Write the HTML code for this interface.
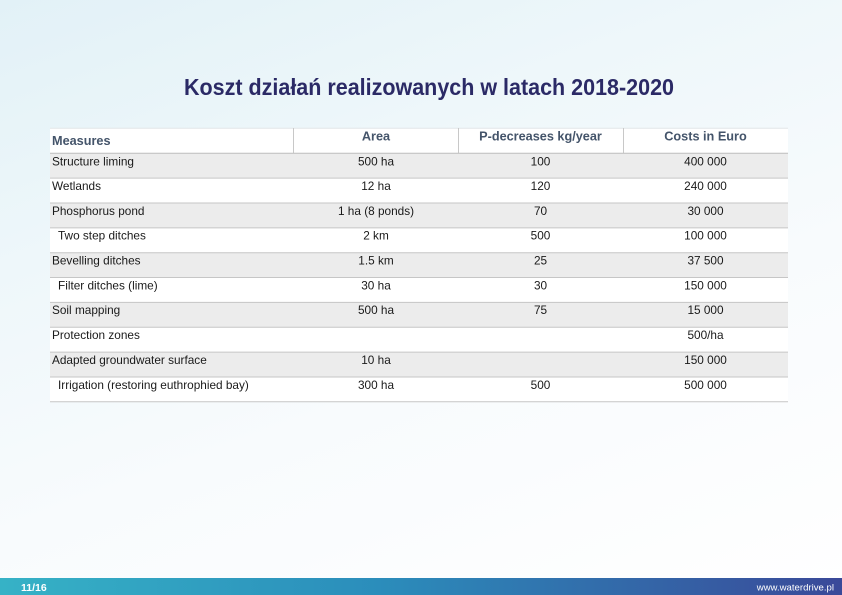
<!DOCTYPE html>
<html>
<head>
<meta charset="utf-8">
<style>
  html, body { margin:0; padding:0; }
  body { width:842px; height:595px; overflow:hidden; position:relative;
    background: linear-gradient(160deg, #e2f1f7 0%, #eef7fa 30%, #f8fbfd 60%, #ffffff 100%);
    font-family: "Liberation Sans", sans-serif; }
  svg { position:absolute; left:0; top:0; }
</style>
</head>
<body>
<svg width="842" height="595" viewBox="0 0 842 595" xmlns="http://www.w3.org/2000/svg">
  <defs>
    <linearGradient id="foot" x1="0" y1="0" x2="1" y2="0">
      <stop offset="0" stop-color="#36b2c6"/>
      <stop offset="0.45" stop-color="#2b8dbb"/>
      <stop offset="1" stop-color="#3a4999"/>
    </linearGradient>
  </defs>

  <!-- Title -->
  <text x="184" y="95" font-family="Liberation Sans, sans-serif" font-weight="bold" font-size="23" fill="#2b2a66" textLength="490" lengthAdjust="spacingAndGlyphs">Koszt działań realizowanych w latach 2018-2020</text>

  <!-- Header -->
  <rect x="50" y="128" width="738" height="25.3" fill="#ffffff"/>
  <line x1="50" y1="128.3" x2="788" y2="128.3" stroke="#e2e6e8" stroke-width="1"/>
  <line x1="293.5" y1="128" x2="293.5" y2="153" stroke="#c8c8c8" stroke-width="1"/>
  <line x1="458.5" y1="128" x2="458.5" y2="153" stroke="#c8c8c8" stroke-width="1"/>
  <line x1="623.5" y1="128" x2="623.5" y2="153" stroke="#c8c8c8" stroke-width="1"/>

  <g font-family="Liberation Sans, sans-serif" font-weight="bold" font-size="12.7" fill="#44546a">
    <text x="52" y="145">Measures</text>
    <text x="376" y="140.5" text-anchor="middle">Area</text>
    <text x="540.5" y="140.5" text-anchor="middle">P-decreases kg/year</text>
    <text x="705.5" y="140.5" text-anchor="middle">Costs in Euro</text>
  </g>

  <!-- Rows backgrounds -->
  <g fill="#ececec">
    <rect x="50" y="153.3" width="738" height="24.85"/>
    <rect x="50" y="203.0" width="738" height="24.85"/>
    <rect x="50" y="252.7" width="738" height="24.85"/>
    <rect x="50" y="302.4" width="738" height="24.85"/>
    <rect x="50" y="352.1" width="738" height="24.85"/>
  </g>
  <g fill="#ffffff">
    <rect x="50" y="178.15" width="738" height="24.85"/>
    <rect x="50" y="227.85" width="738" height="24.85"/>
    <rect x="50" y="277.55" width="738" height="24.85"/>
    <rect x="50" y="327.25" width="738" height="24.85"/>
    <rect x="50" y="376.95" width="738" height="24.85"/>
  </g>

  <!-- Row divider lines -->
  <g stroke="#c6c6c6" stroke-width="1">
    <line x1="50" y1="153.3" x2="788" y2="153.3" stroke="#bdbdbd"/>
    <line x1="50" y1="178.15" x2="788" y2="178.15"/>
    <line x1="50" y1="203.0" x2="788" y2="203.0"/>
    <line x1="50" y1="227.85" x2="788" y2="227.85"/>
    <line x1="50" y1="252.7" x2="788" y2="252.7"/>
    <line x1="50" y1="277.55" x2="788" y2="277.55"/>
    <line x1="50" y1="302.4" x2="788" y2="302.4"/>
    <line x1="50" y1="327.25" x2="788" y2="327.25"/>
    <line x1="50" y1="352.1" x2="788" y2="352.1"/>
    <line x1="50" y1="376.95" x2="788" y2="376.95"/>
    <line x1="50" y1="401.8" x2="788" y2="401.8"/>
  </g>

  <!-- Data -->
  <g font-family="Liberation Sans, sans-serif" font-size="11.8" fill="#1a1a1a">
    <text x="52" y="165.3">Structure liming</text>
    <text x="52" y="190.0">Wetlands</text>
    <text x="52" y="214.8">Phosphorus pond</text>
    <text x="58" y="239.7">Two step ditches</text>
    <text x="52" y="264.5">Bevelling ditches</text>
    <text x="58" y="289.4">Filter ditches (lime)</text>
    <text x="52" y="314.2">Soil mapping</text>
    <text x="52" y="339.1">Protection zones</text>
    <text x="52" y="363.9">Adapted groundwater surface</text>
    <text x="58" y="388.8">Irrigation (restoring euthrophied bay)</text>
  </g>
  <g font-family="Liberation Sans, sans-serif" font-size="11.8" fill="#1a1a1a" text-anchor="middle">
    <!-- Area -->
    <text x="376" y="165.3">500 ha</text>
    <text x="376" y="190.0">12 ha</text>
    <text x="376" y="214.8">1 ha (8 ponds)</text>
    <text x="376" y="239.7">2 km</text>
    <text x="376" y="264.5">1.5 km</text>
    <text x="376" y="289.4">30 ha</text>
    <text x="376" y="314.2">500 ha</text>
    <text x="376" y="363.9">10 ha</text>
    <text x="376" y="388.8">300 ha</text>
    <!-- P-decreases -->
    <text x="540.5" y="165.3">100</text>
    <text x="540.5" y="190.0">120</text>
    <text x="540.5" y="214.8">70</text>
    <text x="540.5" y="239.7">500</text>
    <text x="540.5" y="264.5">25</text>
    <text x="540.5" y="289.4">30</text>
    <text x="540.5" y="314.2">75</text>
    <text x="540.5" y="388.8">500</text>
    <!-- Costs -->
    <text x="705.5" y="165.3">400 000</text>
    <text x="705.5" y="190.0">240 000</text>
    <text x="705.5" y="214.8">30 000</text>
    <text x="705.5" y="239.7">100 000</text>
    <text x="705.5" y="264.5">37 500</text>
    <text x="705.5" y="289.4">150 000</text>
    <text x="705.5" y="314.2">15 000</text>
    <text x="705.5" y="339.1">500/ha</text>
    <text x="705.5" y="363.9">150 000</text>
    <text x="705.5" y="388.8">500 000</text>
  </g>

  <!-- Footer -->
  <rect x="0" y="578" width="842" height="17" fill="url(#foot)"/>
  <text x="21" y="590.8" font-family="Liberation Sans, sans-serif" font-weight="bold" font-size="10.5" fill="#ffffff">11/16</text>
  <text x="834" y="590.5" font-family="Liberation Sans, sans-serif" font-size="9.6" fill="#ffffff" text-anchor="end">www.waterdrive.pl</text>
</svg>
</body>
</html>
